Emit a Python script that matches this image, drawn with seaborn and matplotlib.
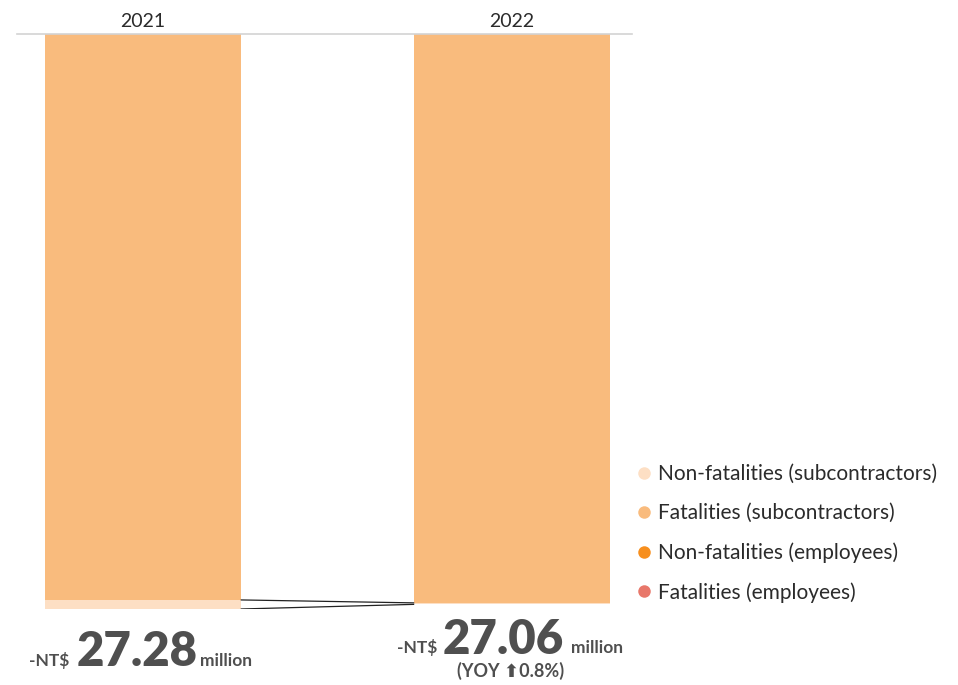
import matplotlib
matplotlib.use("Agg")
import matplotlib.pyplot as plt
import matplotlib.transforms as mtransforms
from matplotlib.lines import Line2D
import seaborn as sns
import pandas as pd
import numpy as np

# ---- data (NT$ million) ----
years = ["2021", "2022"]
fatal_employees = [0.0, 0.0]
nonfatal_employees = [0.0, 0.0]
fatal_subcontractors = [26.85, 26.99]
nonfatal_subcontractors = [0.43, 0.07]
totals_text = ["27.28", "27.06"]
yoy_text = "(YOY \u2b060.8%)"

series_labels = ["Non-fatalities (subcontractors)", "Fatalities (subcontractors)",
                 "Non-fatalities (employees)", "Fatalities (employees)"]
colors = {"Non-fatalities (subcontractors)": "#FDDFC4",
          "Fatalities (subcontractors)": "#F9BB7D",
          "Non-fatalities (employees)": "#F78F1E",
          "Fatalities (employees)": "#E8776A"}

sns.set_theme(style="white")
plt.rcParams["font.family"] = ["Lato", "DejaVu Sans"]

W, H = 958, 685
fig = plt.figure(figsize=(W / 100, H / 100), dpi=100)

def px(x, y):
    return x / W, 1 - y / H

ax_left, ax_right, ax_top, ax_bottom = 17, 632, 33.5, 609
ax = fig.add_axes([ax_left / W, 1 - ax_bottom / H, (ax_right - ax_left) / W, (ax_bottom - ax_top) / H])

# cumulative stacks (top of chart = 0, growing downward)
c1 = np.array(fatal_employees)
c2 = c1 + np.array(nonfatal_employees)
c3 = c2 + np.array(fatal_subcontractors)
c4 = c3 + np.array(nonfatal_subcontractors)

bar_w = 0.53
layers = [(c4, "Non-fatalities (subcontractors)"), (c3, "Fatalities (subcontractors)"),
          (c2, "Non-fatalities (employees)"), (c1, "Fatalities (employees)")]
for vals, lab in layers:
    df = pd.DataFrame({"year": years, "value": vals})
    sns.barplot(data=df, x="year", y="value", order=years, color=colors[lab],
                saturation=1, width=bar_w, ax=ax, errorbar=None, linewidth=0)

# connector lines between bars
xs = [0 + bar_w / 2, 1 - bar_w / 2]
ax.plot(xs, [c3[0], c3[1]], color="#222222", lw=0.9, solid_capstyle="butt")
ax.plot(xs, [c4[0], c4[1]], color="#222222", lw=0.9, solid_capstyle="butt")

ax.set_xlim(-0.341, 1.325)
ax.set_ylim(c4[0], 0)
ax.set_xlabel("")
ax.set_ylabel("")
ax.set_xticks([])
ax.set_yticks([])
for s in ["left", "right", "bottom"]:
    ax.spines[s].set_visible(False)
ax.spines["top"].set_color("#d3d3d3")
ax.spines["top"].set_linewidth(1.2)

# year labels on top
trans = mtransforms.blended_transform_factory(ax.transData, fig.transFigure)
for i, y in enumerate(years):
    ax.text(i, 1 - 27 / H, y, transform=trans, ha="center", va="baseline",
            fontsize=14, color="#2b2b2b")

# bottom total labels
tc = "#4f4f4f"
fig.text(*px(29, 666), "-NT$", fontsize=12.5, fontweight="bold", color=tc, ha="left", va="baseline")
fig.text(*px(77, 666), totals_text[0], fontsize=34, fontweight="heavy", color=tc, ha="left", va="baseline")
fig.text(*px(200, 666), "million", fontsize=12.5, fontweight="bold", color=tc, ha="left", va="baseline")

fig.text(*px(397, 653), "-NT$", fontsize=12.5, fontweight="bold", color=tc, ha="left", va="baseline")
fig.text(*px(443, 654), totals_text[1], fontsize=34, fontweight="heavy", color=tc, ha="left", va="baseline")
fig.text(*px(571, 653), "million", fontsize=12.5, fontweight="bold", color=tc, ha="left", va="baseline")
fig.text(*px(511, 677), yoy_text, fontsize=13, fontweight="bold", color=tc, ha="center", va="baseline",
         family=["Lato", "DejaVu Sans"])

# legend
handles = [Line2D([0], [0], marker="o", linestyle="", markersize=9,
                  markerfacecolor=colors[l], markeredgewidth=0) for l in series_labels]
fig.legend(handles, series_labels, loc="upper left", bbox_to_anchor=px(637, 464),
           frameon=False, fontsize=15, labelcolor="#2b2b2b", handlelength=0.7,
           handletextpad=0.32, labelspacing=0.92, borderpad=0, borderaxespad=0)

fig.savefig("out.png", dpi=100)
